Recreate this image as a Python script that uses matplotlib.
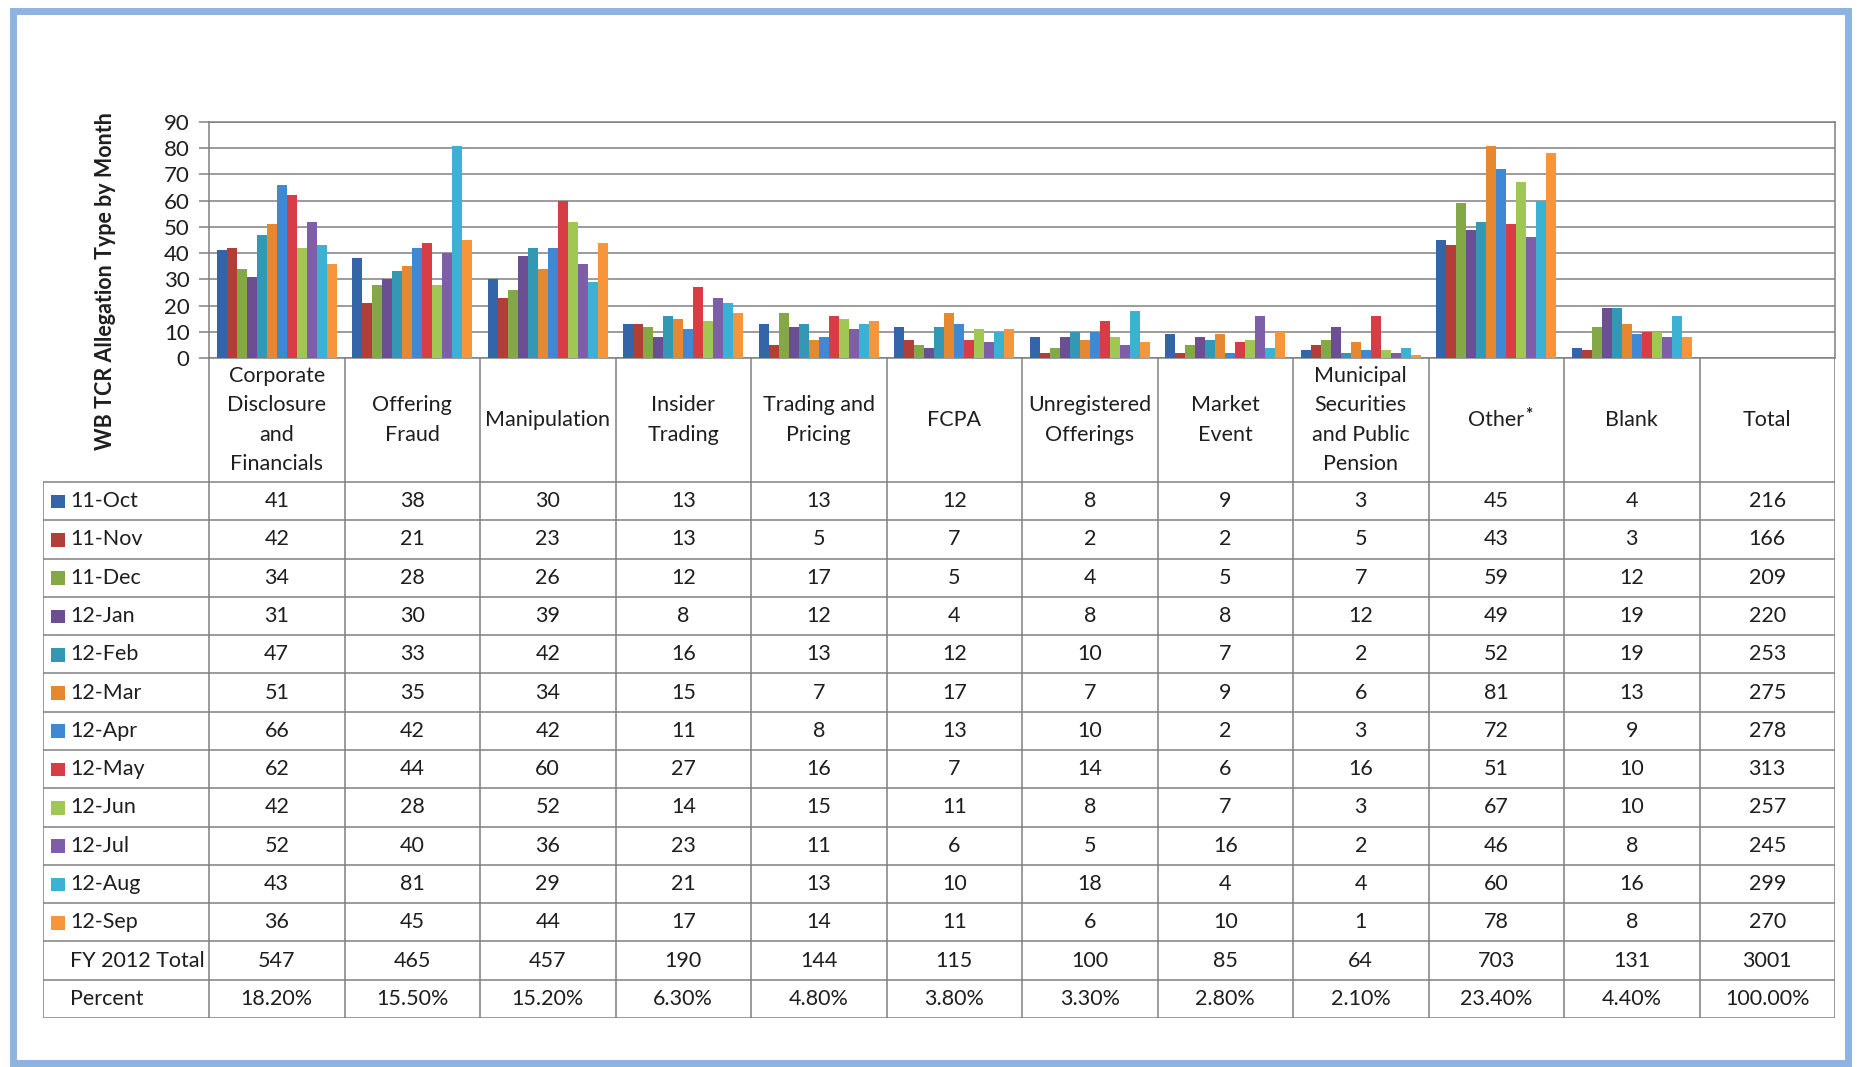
import matplotlib
matplotlib.use("Agg")
import matplotlib.pyplot as plt
from matplotlib.patches import Rectangle

plt.rcParams['font.family'] = ['Lato', 'DejaVu Sans']

# categories (last one, Total, has no bars)
categories = ["Corporate\nDisclosure\nand\nFinancials", "Offering\nFraud", "Manipulation",
              "Insider\nTrading", "Trading and\nPricing", "FCPA", "Unregistered\nOfferings",
              "Market\nEvent", "Municipal\nSecurities\nand Public\nPension", "Other", "Blank", "Total"]
months = ["11-Oct", "11-Nov", "11-Dec", "12-Jan", "12-Feb", "12-Mar",
          "12-Apr", "12-May", "12-Jun", "12-Jul", "12-Aug", "12-Sep"]
colors = ['#3465A8', '#B23E3A', '#84A845', '#6B4F92', '#3398B4', '#E5882F',
          '#3F88D4', '#D63D45', '#A0C654', '#7E5DA9', '#3BB2D3', '#F7953A']

oct11 = [41, 38, 30, 13, 13, 12, 8, 9, 3, 45, 4]
nov11 = [42, 21, 23, 13, 5, 7, 2, 2, 5, 43, 3]
dec11 = [34, 28, 26, 12, 17, 5, 4, 5, 7, 59, 12]
jan12 = [31, 30, 39, 8, 12, 4, 8, 8, 12, 49, 19]
feb12 = [47, 33, 42, 16, 13, 12, 10, 7, 2, 52, 19]
mar12 = [51, 35, 34, 15, 7, 17, 7, 9, 6, 81, 13]
apr12 = [66, 42, 42, 11, 8, 13, 10, 2, 3, 72, 9]
may12 = [62, 44, 60, 27, 16, 7, 14, 6, 16, 51, 10]
jun12 = [42, 28, 52, 14, 15, 11, 8, 7, 3, 67, 10]
jul12 = [52, 40, 36, 23, 11, 6, 5, 16, 2, 46, 8]
aug12 = [43, 81, 29, 21, 13, 10, 18, 4, 4, 60, 16]
sep12 = [36, 45, 44, 17, 14, 11, 6, 10, 1, 78, 8]
series = [oct11, nov11, dec11, jan12, feb12, mar12, apr12, may12, jun12, jul12, aug12, sep12]

month_totals = [216, 166, 209, 220, 253, 275, 278, 313, 257, 245, 299, 270]
fy_totals = [547, 465, 457, 190, 144, 115, 100, 85, 64, 703, 131, 3001]
percents = ["18.20%", "15.50%", "15.20%", "6.30%", "4.80%", "3.80%", "3.30%",
            "2.80%", "2.10%", "23.40%", "4.40%", "100.00%"]

W, H = 1858, 1067
fig = plt.figure(figsize=(W / 100, H / 100), dpi=100)
txtc = '#1e1e1e'
linec = '#808080'
fs = 15.5

# pixel layout
px_left, px_right = 209, 1835
px_top, px_axis = 122, 358
px_tleft, px_tbot = 43, 1018
ncat = len(categories)
colw = (px_right - px_left) / ncat
w0 = (px_left - px_tleft) / colw
hdr = 3.24

# chart
ax = fig.add_axes([px_left / W, 1 - px_axis / H, (px_right - px_left) / W, (px_axis - px_top) / H])
group = 0.886
bw = group / len(series)
for j, vals in enumerate(series):
    xs = [i + (1 - group) / 2 + (j + 0.5) * bw for i in range(len(vals))]
    ax.bar(xs, vals, width=bw, color=colors[j], zorder=3, linewidth=0)
ax.set_xlim(0, ncat)
ax.set_ylim(0, 90)
ax.set_yticks(range(0, 91, 10))
ax.set_xticks([])
ax.yaxis.grid(True, color=linec, linewidth=1.1, zorder=0)
for s in ax.spines.values():
    s.set_color(linec)
    s.set_linewidth(1.1)
ax.tick_params(axis='y', direction='out', length=7, width=1.1, color=linec,
               labelsize=16, labelcolor=txtc, pad=7)
fig.text(106 / W, 1 - 281 / H, "WB TCR Allegation Type by Month", rotation=90,
         ha='center', va='center', fontsize=15.5, fontweight='bold', color=txtc)

# data table
tb = fig.add_axes([px_tleft / W, 1 - px_tbot / H, (px_right - px_tleft) / W, (px_tbot - px_axis) / H])
tb.set_xlim(-w0, ncat)
tb.set_ylim(hdr + 14, 0)
tb.axis('off')
for i in range(ncat + 1):
    tb.plot([i, i], [0, hdr + 14], color=linec, lw=1.1)
tb.plot([-w0, -w0], [hdr, hdr + 14], color=linec, lw=1.1)
for r in range(15):
    tb.plot([-w0, ncat], [hdr + r, hdr + r], color=linec, lw=1.1)

for i, cat in enumerate(categories):
    t = tb.text(i + 0.5, hdr / 2, cat, ha='center', va='center', fontsize=fs,
                color=txtc, linespacing=1.58)
    if cat == "Other":
        tb.annotate("*", xy=(1, 1), xycoords=t, xytext=(0.5, 2), textcoords='offset points',
                    ha='left', va='top', fontsize=fs * 0.8, color=txtc, fontweight='bold')

for j, m in enumerate(months):
    y = hdr + j + 0.5
    tb.add_patch(Rectangle((-w0 + 0.06, y - 0.17), 0.1, 0.36, color=colors[j], lw=0))
    tb.text(-w0 + 0.2, y, m, ha='left', va='center', fontsize=fs, color=txtc)
    for i, v in enumerate(series[j] + [month_totals[j]]):
        tb.text(i + 0.5, y, str(v), ha='center', va='center', fontsize=fs, color=txtc)

y = hdr + 12.5
tb.text(-w0 + 0.2, y, "FY 2012 Total", ha='left', va='center', fontsize=fs, color=txtc)
for i, v in enumerate(fy_totals):
    tb.text(i + 0.5, y, str(v), ha='center', va='center', fontsize=fs, color=txtc)
y = hdr + 13.5
tb.text(-w0 + 0.2, y, "Percent", ha='left', va='center', fontsize=fs, color=txtc)
for i, v in enumerate(percents):
    tb.text(i + 0.5, y, v, ha='center', va='center', fontsize=fs, color=txtc)

# outer frame
fig.patches.append(Rectangle((13 / W, 4 / H), 1835 / W, 1052 / H, transform=fig.transFigure,
                             fill=False, edgecolor='#8DB3E2', linewidth=5))

fig.savefig("out.png", dpi=100)
